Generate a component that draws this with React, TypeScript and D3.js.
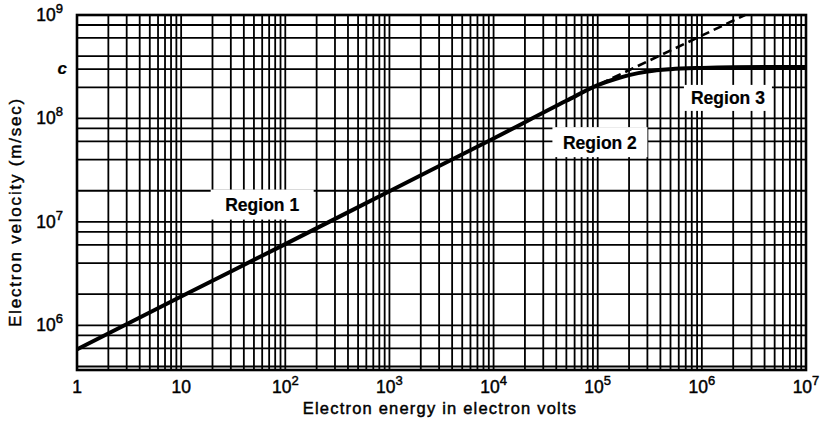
import React from "react";
import * as d3 from "d3";

// ---- data ----
const solidEnergy = [1, 10, 100, 1e3, 1e4, 5e4, 1e5, 1.5e5, 2e5, 3e5, 5e5, 1e6, 2e6, 5e6, 1e7];
const solidVelocity = [5.85e5, 1.9e6, 6.1e6, 1.98e7, 6.4e7, 1.48e8, 2.1e8, 2.42e8, 2.62e8, 2.84e8, 2.99e8, 3.08e8, 3.13e8, 3.15e8, 3.15e8];
const dashedEnergy = [1.05e5, 2.6e6];
const dashedVelocity = [2.15e8, 1e9];

const xTickExponents = [0, 1, 2, 3, 4, 5, 6, 7];
const yTickExponents = [6, 7, 8, 9];
const xGridMultipliers = [1, 2, 3, 4, 5, 6, 7, 8, 9];
const yGridMultipliers = [1, 2, 4, 6, 8];
const cVelocity = 3e8;

const regionLabels = ["Region 1", "Region 2", "Region 3"];
const regionEnergy = [60, 1.05e5, 1.78e6];
const regionVelocity = [1.47e7, 5.9e7, 1.58e8];

const xTitle = "Electron energy in electron volts";
const yTitle = "Electron velocity (m/sec)";

// ---- layout ----
const W = 826;
const H = 423;
const left = 77;
const right = 806;
const top = 15;
const bottom = 370;
const FONT = "'Liberation Sans', Arial, Helvetica, sans-serif";

export default function App() {
  const x = d3.scaleLog().domain([1, 1e7]).range([left, right]);
  const y = d3.scaleLog().domain([3.7e5, 1e9]).range([bottom, top]);

  const xGrid: number[] = [];
  for (let e = 0; e < 7; e++) for (const m of xGridMultipliers) xGrid.push(m * Math.pow(10, e));
  const yGrid: number[] = [];
  for (let e = 5; e < 9; e++)
    for (const m of yGridMultipliers) {
      const v = m * Math.pow(10, e);
      if (v >= 3.7e5 && v < 1e9) yGrid.push(v);
    }
  yGrid.push(cVelocity);

  const line = d3
    .line<[number, number]>()
    .x((d) => x(d[0]))
    .y((d) => y(d[1]))
    .curve(d3.curveMonotoneX);

  const solid = line(solidEnergy.map((e, i) => [e, solidVelocity[i]] as [number, number]));
  const dashed = line(dashedEnergy.map((e, i) => [e, dashedVelocity[i]] as [number, number]));

  const boxW = [103, 95, 88];
  const boxH = [30, 30, 26];

  const textProps = {
    fontFamily: FONT,
    fill: "#000",
    stroke: "#000",
    strokeWidth: 0.45,
  };

  return (
    <svg width={W} height={H} style={{ position: "absolute", left: 0, top: 0, background: "#fff" }}>
      <rect x={0} y={0} width={W} height={H} fill="#fff" />
      {xGrid.map((v, i) => (
        <line key={"xg" + i} x1={x(v)} x2={x(v)} y1={top} y2={bottom} stroke="#000" strokeWidth={v === 1 ? 0 : 1.8} />
      ))}
      {yGrid.map((v, i) => (
        <line key={"yg" + i} x1={left} x2={right} y1={y(v)} y2={y(v)} stroke="#000" strokeWidth={1.8} />
      ))}
      <rect x={left} y={top} width={right - left} height={bottom - top} fill="none" stroke="#000" strokeWidth={2.6} />

      {regionLabels.map((t, i) => {
        const cx = x(regionEnergy[i]);
        const cy = y(regionVelocity[i]);
        return (
          <g key={t}>
            <rect x={cx - boxW[i] / 2} y={cy - boxH[i] / 2} width={boxW[i]} height={boxH[i]} fill="#fff" />
            <text x={cx} y={cy + 6.5} textAnchor="middle" {...textProps} fontWeight={700} strokeWidth={0.2} fontSize={17.5}>
              {t}
            </text>
          </g>
        );
      })}

      <path d={dashed || ""} fill="none" stroke="#000" strokeWidth={2.6} strokeDasharray="9 5" />
      <path d={solid || ""} fill="none" stroke="#000" strokeWidth={4} strokeLinejoin="round" />

      {xTickExponents.map((e) => {
        const cx = x(Math.pow(10, e));
        if (e <= 1)
          return (
            <text key={"xt" + e} x={cx} y={393} textAnchor="middle" {...textProps} fontSize={17.5}>
              {e === 0 ? "1" : "10"}
            </text>
          );
        return (
          <text key={"xt" + e} x={cx} y={393} textAnchor="middle" {...textProps} fontSize={17.5}>
            10
            <tspan dy={-8} fontSize={13}>
              {String(e)}
            </tspan>
          </text>
        );
      })}

      {yTickExponents.map((e) => {
        const cy = y(Math.pow(10, e));
        return (
          <text key={"yt" + e} x={63} y={cy + 6} textAnchor="end" {...textProps} fontSize={17.5}>
            10
            <tspan dy={-8} fontSize={13}>
              {String(e)}
            </tspan>
          </text>
        );
      })}
      <text x={67} y={y(cVelocity) + 5} textAnchor="end" {...textProps} fontStyle="italic" fontWeight={700} strokeWidth={0.2} fontSize={17}>
        c
      </text>

      <text x={440} y={414} textAnchor="middle" {...textProps} fontSize={16.5} letterSpacing={1.2}>
        {xTitle}
      </text>
      <text transform={`translate(21, 212) rotate(-90)`} textAnchor="middle" {...textProps} fontSize={17} letterSpacing={1.8}>
        {yTitle}
      </text>
    </svg>
  );
}
